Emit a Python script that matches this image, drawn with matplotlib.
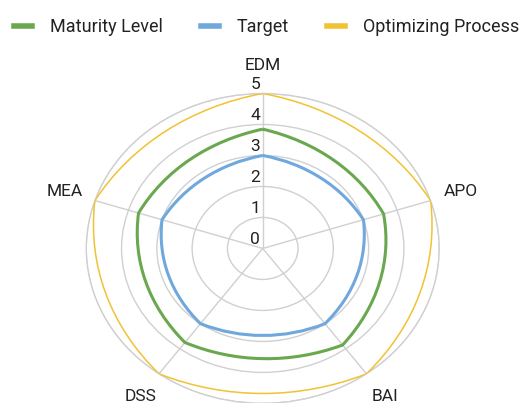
import numpy as np
import matplotlib.pyplot as plt
from matplotlib.path import Path
from matplotlib.patches import PathPatch

plt.rcParams['font.family'] = ['Roboto', 'DejaVu Sans']

categories = ['EDM', 'APO', 'BAI', 'DSS', 'MEA']
maturity = [3.85, 3.6, 3.85, 3.75, 3.7]
target = [3, 3, 3, 3, 3]
optimizing = [5, 5, 5, 5, 5]
levels = [0, 1, 2, 3, 4, 5]

green = '#6aa84f'
blue = '#6fa8dc'
yellow = '#f1c232'
grid_col = '#d0d0d0'

angles = np.linspace(0, 2 * np.pi, len(categories), endpoint=False)
step = 2 * np.pi / len(categories)


def radar_path(values):
    # closed curve through the values, one cubic segment per edge (theta, r space)
    verts = [(angles[0], values[0])]
    codes = [Path.MOVETO]
    n = len(values)
    for i in range(n):
        r0, r1 = values[i], values[(i + 1) % n]
        t0 = angles[i]
        verts += [(t0 + step / 3, r0 + (r1 - r0) / 3),
                  (t0 + 2 * step / 3, r0 + 2 * (r1 - r0) / 3),
                  (t0 + step, r1)]
        codes += [Path.CURVE4] * 3
    return Path(verts, codes)


fig = plt.figure(figsize=(5.26, 4.03), dpi=100)
ax = fig.add_axes([0.164, -0.001, 0.671, 0.769], projection='polar')
ax.set_aspect('auto')
ax.set_theta_offset(np.pi / 2)
ax.set_theta_direction(-1)
ax.set_ylim(0, 5)

for vals, col, lw, z in [(optimizing, yellow, 1.1, 3), (maturity, green, 2.2, 4), (target, blue, 2.2, 4)]:
    ax.add_patch(PathPatch(radar_path(vals), fill=False, edgecolor=col, lw=lw,
                           transform=ax.transData, zorder=z))

ax.set_xticks(angles)
ax.set_xticklabels([])
ax.set_yticks(levels[1:])
ax.set_yticklabels([])
ax.grid(color=grid_col, lw=1.0)
ax.spines['polar'].set_color(grid_col)
ax.spines['polar'].set_linewidth(1.0)
ax.tick_params(length=0)

for a, name in zip(angles, categories):
    ax.text(a, 5.9, name, ha='center', va='center', fontsize=12.5, color='#222222')

for v in levels:
    ax.annotate(str(v), xy=(0, v), xytext=(-2, 1), textcoords='offset points',
                ha='right', va='bottom', fontsize=12.5, color='#222222')

handles = [plt.Line2D([], [], color=c, lw=4) for c in (green, blue, yellow)]
fig.legend(handles, ['Maturity Level', 'Target', 'Optimizing Process'],
           loc='upper center', bbox_to_anchor=(0.507, 0.995), ncol=3, frameon=False,
           fontsize=13, handlelength=1.0, handletextpad=1.0, columnspacing=2.1,
           labelcolor='#222222')

fig.savefig('out.png', dpi=100)
